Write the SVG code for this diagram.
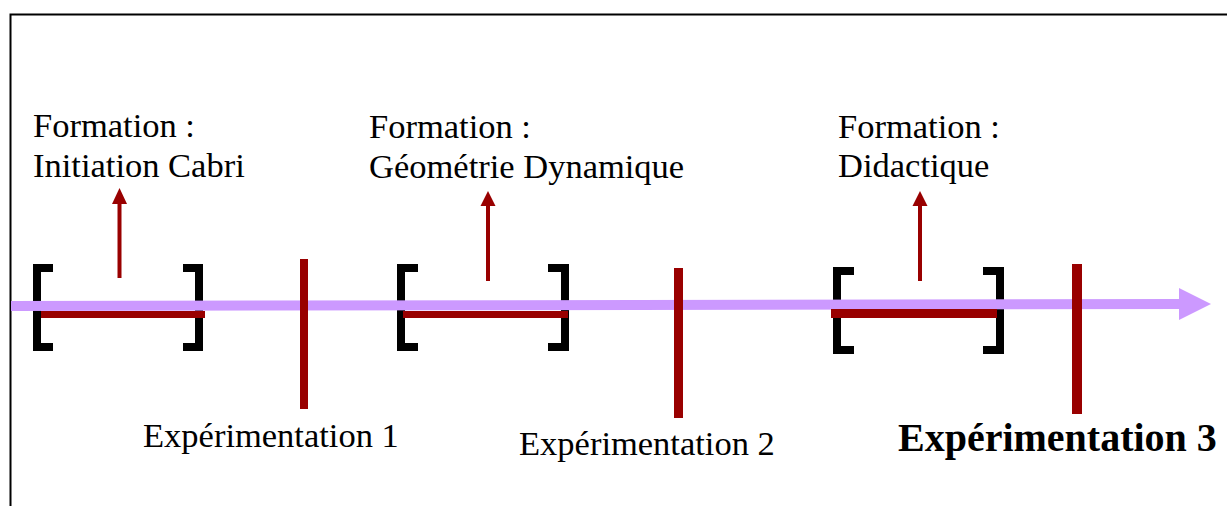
<svg xmlns="http://www.w3.org/2000/svg" width="1227" height="506" viewBox="0 0 1227 506">
<style>
.t{font-family:"Liberation Serif","Times New Roman",serif;font-size:34.5px;fill:#000}
.b{font-weight:bold;font-size:40px}
.br{fill:none;stroke:#000;stroke-width:8}
.rb{fill:#990000}
.ar{stroke:#990000;stroke-width:4;fill:none}
.ah{fill:#990000}
</style>
<rect width="1227" height="506" fill="#fff"/>
<path d="M10.5,506 V14.5 H1227" fill="none" stroke="#000" stroke-width="2"/>
<g id="brackets">
<g id="bracket1"><path class="br" d="M53,268 H37 V347 H53"/><path class="br" d="M183,268 H199 V347 H183"/></g>
<g id="bracket2"><path class="br" d="M418,268 H401 V347 H418"/><path class="br" d="M548,268 H565 V347 H548"/></g>
<g id="bracket3"><path class="br" d="M854,271 H837 V350 H854"/><path class="br" d="M983,271 H1000 V350 H983"/></g>
</g>
<g id="connectors">
<g id="timeline"><line x1="11" y1="306" x2="1181" y2="304" stroke="#CC99FF" stroke-width="10"/><polygon points="1179,288 1211,304 1179,320" fill="#CC99FF"/></g>
<rect class="rb" x="41" y="311" width="164" height="7"/>
<rect class="rb" x="403" y="311" width="165" height="7"/>
<rect class="rb" x="831" y="309" width="166" height="9"/>
<g id="arrow1"><line class="ar" x1="119.5" y1="278" x2="119.5" y2="202"/><polygon class="ah" points="119.5,188 127,204 112,204"/></g>
<g id="arrow2"><line class="ar" x1="488" y1="281" x2="488" y2="204"/><polygon class="ah" points="488,191 495.5,206 480.5,206"/></g>
<g id="arrow3"><line class="ar" x1="920" y1="281" x2="920" y2="204"/><polygon class="ah" points="920,191 927.5,206 912.5,206"/></g>
</g>
<g id="exp1"><rect class="rb" x="300" y="259" width="8" height="150"/><text class="t" x="143" y="447">Expérimentation 1</text></g>
<g id="exp2"><rect class="rb" x="674" y="268" width="9" height="150"/><text class="t" x="519" y="455">Expérimentation 2</text></g>
<g id="exp3"><rect class="rb" x="1072" y="264" width="10" height="150"/><text class="t b" x="898" y="451">Expérimentation 3</text></g>
<g id="form1"><text class="t" x="33" y="137">Formation :</text><text class="t" x="33" y="177">Initiation Cabri</text></g>
<g id="form2"><text class="t" x="369" y="138">Formation :</text><text class="t" x="369" y="178">Géométrie Dynamique</text></g>
<g id="form3"><text class="t" x="838" y="138">Formation :</text><text class="t" x="838" y="177">Didactique</text></g>
</svg>
